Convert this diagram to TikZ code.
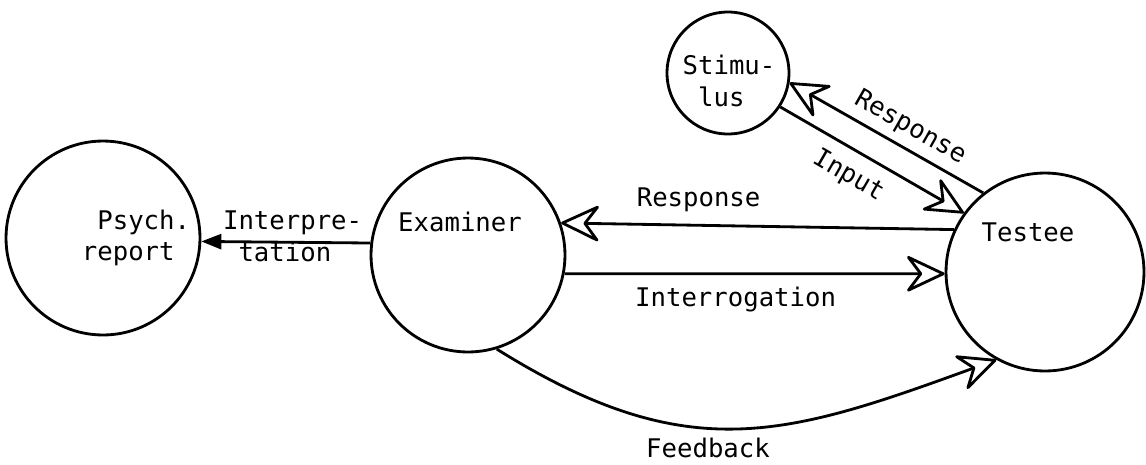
\documentclass[tikz,border=0pt]{standalone}
\usepackage{fontspec}
\setmainfont{DejaVu Sans Mono}
\usetikzlibrary{arrows.meta}
\tikzset{
  blob/.style={draw,circle,line width=1.6pt,inner sep=0pt},
  word/.style={font=\fontsize{14.6}{18}\selectfont,align=left,inner sep=2pt},
  flow/.style={line width=1.6pt,-{Stealth[open,round,length=0.85cm,width=0.8cm,inset=0.3cm]}},
}

\begin{document}
\begin{tikzpicture}[x=0.02cm,y=-0.02cm]
    \useasboundingbox (0,0) rectangle (1146,464);
    \node[blob,minimum size=3.88cm] (report) at (103,238) {};
    \node[blob,minimum size=3.88cm] (exam) at (468,255) {};
    \node[blob,minimum size=3.96cm] (testee) at (1045,272) {};
    \node[blob,minimum size=2.44cm] (stim) at (728,73) {};
    \node[word] (reporttext) at (136,238) {\phantom{r}Psych.\\report};
    \node[word] (examtext) at (460,222) {Examiner};
    \node[word] (testeetext) at (1028,232) {Testee};
    \node[word] (stimtext) at (729,81) {Stimu-\\\phantom{S}lus};

    \draw[line width=1.6pt,-{Triangle[length=0.4cm,width=0.3cm]}] (exam.173) -- (report.-2)
        node[word,pos=0.46,yshift=0.12cm] (interp) {Interpre-\\\phantom{t}tation};
    \draw[flow] (testee.155) -- (exam.19) node[word,pos=0.65,above=5pt] (resp) {Response};
    \draw[flow] (exam.-11) -- (testee.181) node[word,pos=0.45,below=5pt] (interrog) {Interrogation};
    \draw[flow] (stim.-33) -- (testee.144) node[word,sloped,pos=0.44,below=5pt] (input) {Input};
    \draw[flow] (testee.128) -- (stim.-9) node[word,sloped,pos=0.43,above=2pt] (back) {Response};
    \draw[flow] (exam.-73) to[out=-32,in=200,looseness=1.15] (testee.-119);
    \node[word] (fb) at (708,448) {Feedback};
\end{tikzpicture}
\end{document}
